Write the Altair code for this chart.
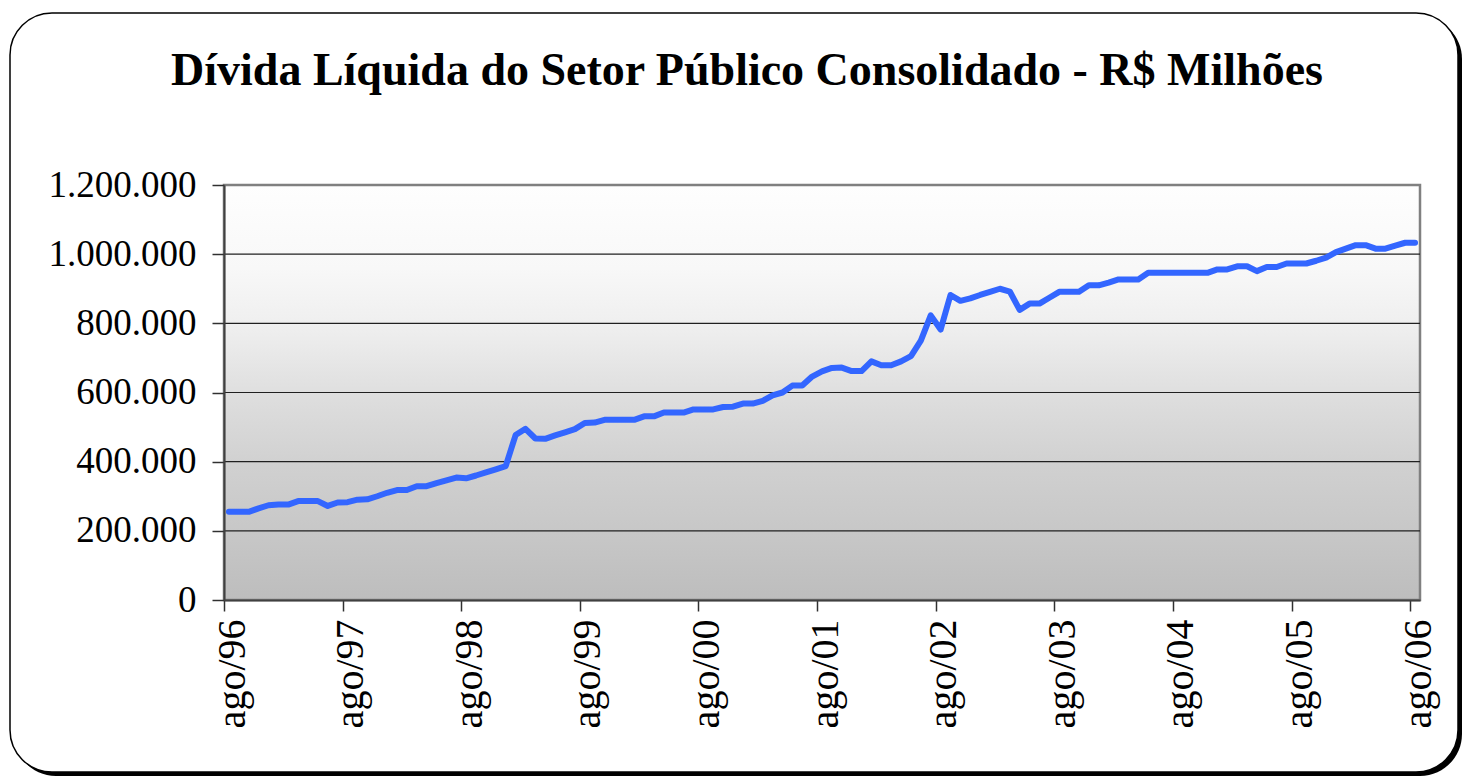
import altair as alt
import pandas as pd

titulo = "Dívida Líquida do Setor Público Consolidado - R$ Milhões"

# DLSP, R$ milhões, mensal de ago/96 a ago/06
valores = [
    255000, 255000, 255000, 265000, 274000, 276000, 276000, 286000, 286000, 286000,
    272000, 282000, 283000, 290000, 291000, 300000, 310000, 318000, 318000, 329000,
    329000, 338000, 346000, 354000, 352000, 360000, 369000, 378000, 387000, 477000,
    495000, 467000, 466000, 476000, 485000, 494000, 512000, 513000, 521000, 521000,
    521000, 521000, 531000, 531000, 542000, 542000, 542000, 551000, 551000, 551000,
    558000, 559000, 568000, 568000, 576000, 592000, 600000, 620000, 620000, 646000,
    661000, 671000, 672000, 662000, 662000, 690000, 679000, 679000, 690000, 705000,
    750000, 823000, 782000, 882000, 865000, 872000, 882000, 891000, 900000, 892000,
    839000, 857000, 857000, 874000, 891000, 891000, 891000, 910000, 910000, 918000,
    927000, 927000, 927000, 946000, 946000, 946000, 946000, 946000, 946000, 946000,
    956000, 956000, 965000, 965000, 951000, 963000, 963000, 973000, 973000, 973000,
    981000, 990000, 1006000, 1016000, 1026000, 1026000, 1016000, 1016000, 1025000, 1033000,
    1033000,
]
rotulos_x = ["ago/96", "ago/97", "ago/98", "ago/99", "ago/00", "ago/01",
             "ago/02", "ago/03", "ago/04", "ago/05", "ago/06"]
ticks_y = [0, 200000, 400000, 600000, 800000, 1000000, 1200000]
rotulos_y = ["0", "200.000", "400.000", "600.000", "800.000", "1.000.000", "1.200.000"]
grade_y = [200000, 400000, 600000, 800000, 1000000]

n = len(valores)
df = pd.DataFrame({"mes": list(range(n)), "valor": valores})
df_grade = pd.DataFrame({"mes": [-0.5] * len(grade_y), "mes2": [n - 0.5] * len(grade_y),
                         "valor": grade_y})
df_fundo = pd.DataFrame({"mes": [-0.5], "mes2": [n - 0.5], "valor": [0], "valor2": [1200000]})

W, H = 1196, 415
PAD_L, PAD_T = 216, 177
CW, CH = 1454, 768

x_ticks = [-0.5 + 12 * k for k in range(len(rotulos_x))]
x_expr = "[" + ",".join("'%s'" % s for s in rotulos_x) + "][round((datum.value + 0.5) / 12)]"
y_expr = "[" + ",".join("'%s'" % s for s in rotulos_y) + "][round(datum.value / 200000)]"

x_scale = alt.Scale(domain=[-0.5, n - 0.5], nice=False, zero=False)
y_scale = alt.Scale(domain=[0, 1200000], nice=False)

x_axis = alt.Axis(values=x_ticks, labelExpr=x_expr, labelAngle=-90, labelFontSize=40,
                  labelFont="Liberation Serif", labelColor="black", labelPadding=8,
                  labelOffset=8, tickSize=11, tickColor="#303030", tickWidth=1.5,
                  domainColor="#404040", domainWidth=2, grid=False, title=None, zindex=1,
                  labelOverlap=False)
y_axis = alt.Axis(values=ticks_y, labelExpr=y_expr, labelFontSize=37,
                  labelFont="Liberation Serif", labelColor="black", labelPadding=16,
                  tickSize=12, tickColor="#303030", tickWidth=1.5,
                  domainColor="#404040", domainWidth=2, grid=False, title=None, zindex=1,
                  labelOverlap=False)

X = alt.X("mes:Q", scale=x_scale, axis=x_axis)
Y = alt.Y("valor:Q", scale=y_scale, axis=y_axis)

um = pd.DataFrame({"a": [0]})
# moldura arredondada (decoração)
sombra = alt.Chart(um).mark_rect(fill="black", cornerRadius=42).encode(
    x=alt.value(-210), x2=alt.value(CW - PAD_L),
    y=alt.value(-168), y2=alt.value(CH - PAD_T),
)
moldura = alt.Chart(um).mark_rect(
    fill="white", stroke="black", strokeWidth=1.5, cornerRadius=42
).encode(
    x=alt.value(-214), x2=alt.value(CW - PAD_L - 4),
    y=alt.value(-172), y2=alt.value(CH - PAD_T - 4),
)
texto_titulo = alt.Chart(um).mark_text(
    text=titulo, font="Liberation Serif", fontSize=46, fontWeight="bold",
    color="black", align="center", baseline="alphabetic",
).encode(x=alt.value(747 - 224), y=alt.value(85 - 185))

gradiente = {
    "gradient": "linear", "x1": 0, "x2": 0, "y1": 0, "y2": 1,
    "stops": [
        {"color": "#fefefe", "offset": 0},
        {"color": "#f8f8f8", "offset": 0.2},
        {"color": "#eeeeee", "offset": 0.35},
        {"color": "#dddddd", "offset": 0.52},
        {"color": "#d0d0d0", "offset": 0.68},
        {"color": "#c7c7c7", "offset": 0.84},
        {"color": "#bdbdbd", "offset": 1},
    ],
}
fundo = alt.Chart(df_fundo).mark_rect(
    fill=gradiente, stroke="#808080", strokeWidth=2.5,
).encode(x=X, x2="mes2:Q", y=Y, y2="valor2:Q")

grade = alt.Chart(df_grade).mark_rule(color="#202020", strokeWidth=1.2).encode(
    x=X, x2="mes2:Q", y=Y,
)

linha = alt.Chart(df).mark_line(
    color="#3366ff", strokeWidth=6, strokeCap="round", strokeJoin="round"
).encode(x=X, y=Y)

chart = alt.layer(sombra, moldura, texto_titulo, fundo, grade, linha).properties(
    width=W, height=H,
    padding={"left": PAD_L, "top": PAD_T, "right": CW - PAD_L - W, "bottom": CH - PAD_T - H},
    autosize=alt.AutoSizeParams(type="none"),
).configure_view(stroke=None).configure(background="white")

chart.save("out.html", embed_options={"renderer": "svg", "actions": False})
